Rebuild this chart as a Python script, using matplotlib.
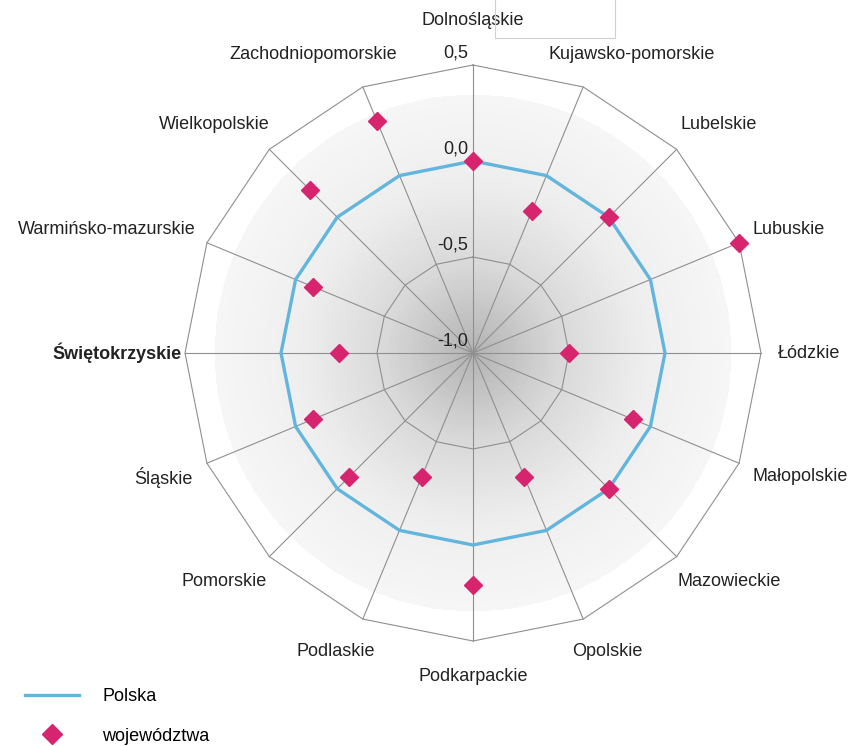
import numpy as np
import matplotlib.pyplot as plt
from matplotlib.colors import LinearSegmentedColormap
from matplotlib.lines import Line2D
from matplotlib.patches import Rectangle

plt.rcParams['font.family'] = ['Liberation Sans', 'DejaVu Sans']

# categories (clockwise from the top)
regions = ['Dolnośląskie', 'Kujawsko-pomorskie', 'Lubelskie', 'Lubuskie', 'Łódzkie',
           'Małopolskie', 'Mazowieckie', 'Opolskie', 'Podkarpackie', 'Podlaskie',
           'Pomorskie', 'Śląskie', 'Świętokrzyskie', 'Warmińsko-mazurskie',
           'Wielkopolskie', 'Zachodniopomorskie']
polska = [0.0, 0.0, 0.0, 0.0, 0.0, 0.0, 0.0, 0.0,
          0.0, 0.0, 0.0, 0.0, 0.0, 0.0, 0.0, 0.0]
wojewodztwa = [0.0, -0.2, 0.0, 0.5, -0.5, -0.1, 0.0, -0.3,
               0.21, -0.3, -0.09, -0.1, -0.3, -0.1, 0.2, 0.31]
r_ticks = [-1.0, -0.5, 0.0, 0.5]
r_tick_labels = ['-1,0', '-0,5', '0,0', '0,5']
highlight = 'Świętokrzyskie'

grid_col = '#8f8f8f'
fs = 13

fig = plt.figure(figsize=(8.56, 7.46), dpi=100)
ax = fig.add_axes([185 / 856, 105 / 746, 576 / 856, 576 / 746], projection='polar')
ax.set_theta_zero_location('N')
ax.set_theta_direction(-1)
ax.set_ylim(-1.0, 0.5)
ax.grid(False)
ax.set_xticks([])
ax.set_yticks([])
ax.spines['polar'].set_visible(False)
ax.patch.set_alpha(0)

theta = np.linspace(0, 2 * np.pi, len(regions), endpoint=False)
theta_c = np.append(theta, theta[0])

# soft radial shading behind the plot
rg = np.linspace(-1.0, 0.344, 90)
tg = np.linspace(0, 2 * np.pi, 361)
T, R = np.meshgrid(tg, rg)
shade = LinearSegmentedColormap.from_list('shade', ['#b3b3b3', '#d8d8d8', '#eeeeee', '#f6f6f6'])
ax.pcolormesh(T, R, R[:-1, :-1], cmap=shade, shading='flat', zorder=0, rasterized=True)

# polygon grid and spokes
for v in r_ticks[1:]:
    ax.plot(theta_c, [v] * len(theta_c), color=grid_col, lw=0.8, zorder=1, clip_on=False)
for th in theta:
    ax.plot([th, th], [r_ticks[0], r_ticks[-1]], color=grid_col, lw=0.8, zorder=1, clip_on=False)

ax.plot(theta_c, polska + polska[:1], color='#62b5dc', lw=2.4, zorder=3)
ax.plot(theta, wojewodztwa, 'D', ms=9, color='#d6246e', ls='none', zorder=4, clip_on=False)

for v, lab in zip(r_ticks, r_tick_labels):
    ax.annotate(lab, xy=(0, v), xytext=(-5, 3), textcoords='offset pixels',
                ha='right', va='bottom', fontsize=fs, color='#222222', annotation_clip=False)

# category labels, pushed outward according to their size
fig.canvas.draw()
renderer = fig.canvas.get_renderer()
gap = 17
for th, name in zip(theta, regions):
    t = ax.annotate(name, xy=(th, 0.5), xytext=(0, 0), textcoords='offset pixels',
                    ha='center', va='center', fontsize=fs, color='#222222',
                    fontweight='bold' if name == highlight else 'normal',
                    annotation_clip=False)
    bb = t.get_window_extent(renderer)
    s, c = np.sin(th), np.cos(th)
    dx = gap * s + np.sign(s) * abs(s) ** 0.7 * bb.width / 2
    dy = gap * c + c * (bb.height / 2 + 10)
    if c > 0.99:
        dy += 9  # keep clear of the top tick label
    if name == highlight:
        dx += 14
    t.xyann = (dx, dy)

handles = [Line2D([], [], color='#62b5dc', lw=2.4),
           Line2D([], [], marker='D', ms=10, color='#d6246e', ls='none')]
fig.legend(handles, ['Polska', 'województwa'], loc='lower left',
           bbox_to_anchor=(0.01, -0.02), frameon=False, fontsize=fs,
           handlelength=3.0, handletextpad=1.3, labelspacing=1.25)

fig.patches.append(Rectangle((495 / 856, 708 / 746), 120 / 856, 0.1,
                             transform=fig.transFigure, fill=False,
                             ec='#d0d0d0', lw=0.8))

fig.savefig('out.png', dpi=100)
